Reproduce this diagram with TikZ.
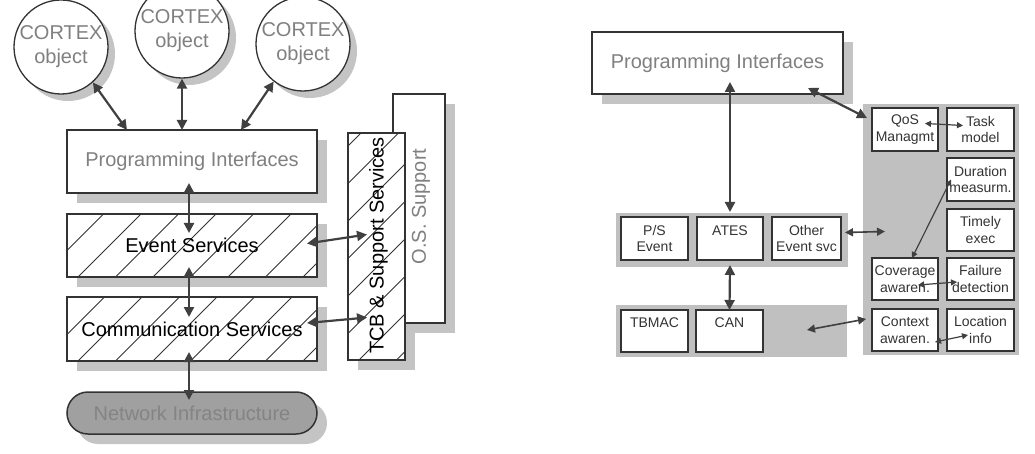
\documentclass[tikz,border=0pt]{standalone}
\usepackage{fontspec}
\setmainfont{Liberation Sans}
\usetikzlibrary{arrows.meta,shadows,calc}
\definecolor{boxc}{HTML}{333333}
\definecolor{arrc}{HTML}{404040}
\definecolor{shadc}{HTML}{C4C4C4}
\definecolor{panelc}{HTML}{C0C0C0}
\definecolor{txtgray}{HTML}{808080}
\definecolor{netc}{HTML}{A0A0A0}
\definecolor{nettxt}{HTML}{848484}
\tikzset{
  box/.style={draw=boxc, line width=1.5pt, fill=white, inner sep=0pt, outer sep=0pt, anchor=north west},
  shad/.style={drop shadow={shadow xshift=10pt, shadow yshift=-10pt, fill=shadc, opacity=1}},
  cshad/.style={drop shadow={shadow xshift=7pt, shadow yshift=-7pt, fill=shadc, opacity=1}},
  big/.style={font=\fontsize{20}{24}\selectfont},
  small/.style={font=\fontsize{14}{16.5}\selectfont, text=boxc, align=center},
  obj/.style={circle, draw=boxc, line width=1.3pt, fill=white, minimum size=94pt, inner sep=0pt, align=center, big, text=txtgray, cshad},
  hatch/.style={path picture={
    \foreach \k in {0,...,15}{
      \draw[boxc, line width=0.9pt] ($(path picture bounding box.south west)+(\k*37.5-251.5,0)$) -- ++(320,-320);
    }}},
  sbox/.style={box, minimum width=66pt, minimum height=43pt, small},
  panel/.style={fill=panelc, inner sep=0pt, outer sep=0pt, anchor=north west},
  bigarr/.style={draw=arrc, line width=2.2pt, {Triangle[length=10pt,width=10pt]}-{Triangle[length=10pt,width=10pt]}},
  midarr/.style={draw=arrc, line width=1.6pt, {Triangle[length=8pt,width=8pt]}-{Triangle[length=8pt,width=8pt]}},
  smallarr/.style={draw=arrc, line width=1.2pt, {Triangle[length=6pt,width=6pt]}-{Triangle[length=6pt,width=6pt]}},
}
\begin{document}
\begin{tikzpicture}[x=1pt,y=-1pt]
\useasboundingbox (0,0) rectangle (1035,454);
% ---------------- left diagram ----------------
\node[obj] (c1) at (61,47) {CORTEX\\object};
\node[obj] (c2) at (182,31) {CORTEX\\object};
\node[obj] (c3) at (303,44) {CORTEX\\object};

\node[box, shad, minimum width=250pt, minimum height=63pt, big, text=txtgray] (pi) at (67,130) {Programming Interfaces};
\node[box, shad, hatch, minimum width=250pt, minimum height=63pt] (ev) at (67,214) {};
\node[big, text=black] (evt) at (ev.center) {Event Services};
\node[box, shad, hatch, minimum width=250pt, minimum height=64pt] (cm) at (67,297) {};
\node[big, text=black] (cmt) at (cm.center) {Communication Services};
\node[box, shad, rounded corners=21pt, fill=netc, minimum width=250pt, minimum height=42pt, big, text=nettxt] (net) at (67,392) {Network Infrastructure};

% shadow of the TCB column lies behind the O.S. box
\fill[shadc] (358,143) rectangle (415,370);
\node[box, shad, minimum width=52pt, minimum height=229pt] (os) at (393,94) {};
\node[big, text=txtgray, rotate=90] (ost) at ($(os.center)+(2,-2)$) {O.S. Support};
\node[box, hatch, minimum width=57pt, minimum height=227pt] (tcb) at (348,133) {};
\node[big, text=black, rotate=90] (tcbt) at ($(tcb.center)+(2,-1)$) {TCB \& Support Services};

\draw[bigarr] (c1.-48) -- ($(pi.north west)+(60,0)$);
\draw[bigarr] (c2.south) -- (c2.south |- pi.north);
\draw[bigarr] (c3.232) -- ($(pi.north east)+(-76,0)$);
\draw[bigarr] ($(pi.south)+(-3,-10)$) -- ($(ev.north)+(-3,19)$);
\draw[bigarr] ($(ev.south)+(-3,-10)$) -- ($(cm.north)+(-3,20)$);
\draw[bigarr] ($(cm.south)+(-3,-9)$) -- ($(net.north)+(-3,8)$);
\draw[bigarr] ($(ev.east)+(-10,-2)$) -- ($(tcb.west)+(19,-12)$);
\draw[bigarr] ($(cm.east)+(-10,-6)$) -- ($(tcb.west)+(19,71)$);

% ---------------- right diagram ----------------
\node[box, shad, minimum width=251pt, minimum height=62pt, big, text=txtgray] (rpi) at (592,32) {Programming Interfaces};
\node[panel, minimum width=156pt, minimum height=251pt] (rp) at (863,104) {};
\node[panel, minimum width=232pt, minimum height=54pt] (evp) at (616,213) {};
\node[panel, minimum width=231pt, minimum height=52pt] (lowp) at (616,305) {};

\node[sbox, minimum width=67pt] (ps) at (621,217) {P/S\\Event};
\node[sbox] (ates) at (697,217) {ATES\\~};
\node[sbox, minimum width=69pt] (other) at (772,217) {Other\\Event svc};
\node[sbox, minimum width=67pt, minimum height=42pt] (tbmac) at (621,310) {TBMAC\\~};
\node[sbox, minimum width=67pt, minimum height=42pt] (can) at (696,310) {CAN\\~};

\node[sbox, minimum width=66pt] (qos) at (872,108) {QoS\\Managmt};
\node[sbox, minimum width=67pt] (task) at (947,108) {Task\\model};
\node[sbox, minimum width=67pt] (dur) at (947,158) {Duration\\measurm.};
\node[sbox, minimum width=67pt, minimum height=42pt] (tim) at (947,209) {Timely\\exec};
\node[sbox, minimum width=66pt, minimum height=42pt] (cov) at (872,258) {Coverage\\awaren.};
\node[sbox, minimum width=67pt, minimum height=42pt] (fail) at (947,258) {Failure\\detection};
\node[sbox, minimum width=66pt, minimum height=42pt] (ctx) at (872,309) {Context\\awaren.};
\node[sbox, minimum width=67pt, minimum height=42pt] (loc) at (947,309) {Location\\info};

\draw[bigarr] ($(ates.north |- rpi.south)+(0,-12)$) -- ($(ates.north)+(0,-5)$);
\draw[bigarr] ($(ates.south)+(0,5)$) -- (can.north);
\draw[bigarr] ($(rpi.south east)+(-35,-6)$) -- ($(qos.north west)+(-5,10)$);
\draw[midarr] ($(other.east)+(4,-6)$) -- ($(rp.west)+(22,2)$);
\draw[midarr] ($(lowp.east)+(-40,-1)$) -- ($(ctx.west)+(-6,-11)$);
\draw[smallarr] ($(qos.east)+(-13,-6)$) -- ($(task.west)+(16,-4)$);
\draw[smallarr] ($(dur.west)+(4,0)$) -- ($(cov.north)+(7,0)$);
\draw[smallarr] ($(cov.east)+(-20,6)$) -- ($(fail.west)+(10,3)$);
\draw[smallarr] ($(ctx.east)+(-3,12)$) -- ($(loc.west)+(21,5)$);
\end{tikzpicture}
\end{document}
